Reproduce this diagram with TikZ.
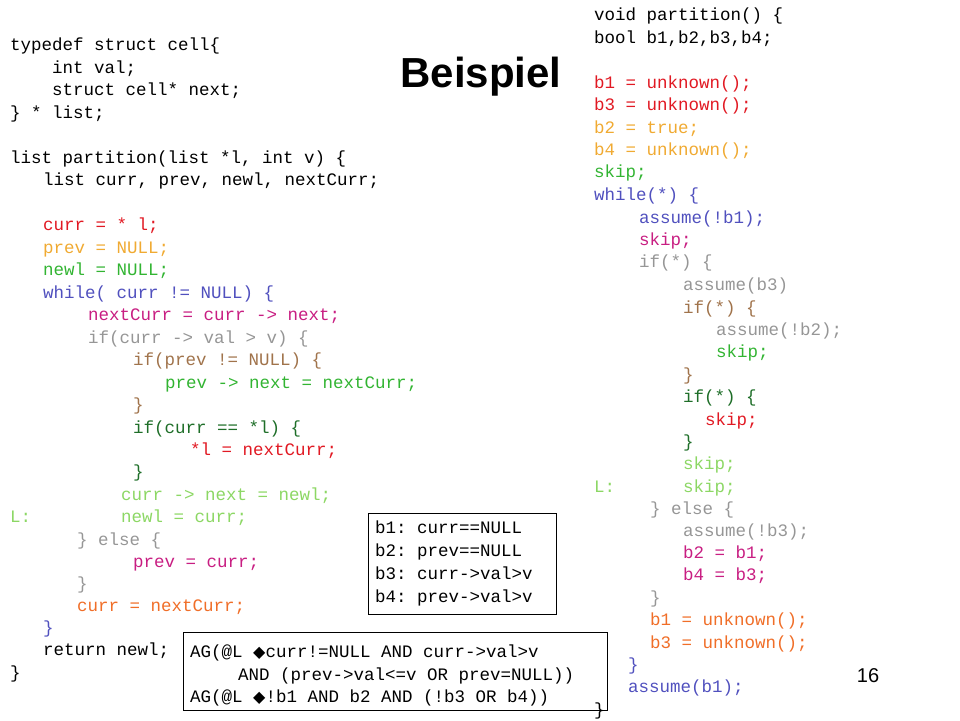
\documentclass[tikz,border=0pt]{standalone}
\usepackage{fontspec}
\setmainfont{Liberation Sans}
\setmonofont{Liberation Mono}
\newfontfamily\symfont{DejaVu Sans}
\usetikzlibrary{positioning}
\definecolor{cred}{RGB}{225,25,35}
\definecolor{corange}{RGB}{240,170,50}
\definecolor{cgreen}{RGB}{50,180,50}
\definecolor{cblue}{RGB}{80,80,190}
\definecolor{cmag}{RGB}{200,30,130}
\definecolor{cgray}{RGB}{150,150,150}
\definecolor{cbrown}{RGB}{160,115,75}
\definecolor{cdgreen}{RGB}{30,110,40}
\definecolor{clgreen}{RGB}{140,215,100}
\definecolor{cored}{RGB}{240,110,40}
\tikzstyle{code} = [inner sep=0pt, anchor=base west,
font=\ttfamily\fontsize{17.5}{22.5}\selectfont]
\tikzstyle{frame} = [draw, thick, inner sep=0pt]
\newcounter{ln}
% one code line: x, centre y, colour, text
\newcommand\cl[4]{\stepcounter{ln}\node (ln\theln) [code, text=#3] at (#1,#2+5) {#4};}
\newcommand\dmd{{\symfont\fontsize{16}{16}\selectfont ◆}}

\begin{document}
\begin{tikzpicture}[x=1pt, y=-1pt]
            \useasboundingbox (0,0) rectangle (960,720);
            \node (title) [font=\bfseries\fontsize{42}{42}\selectfont] at (481,77) {Beispiel};
            \node (page) [font=\fontsize{20}{20}\selectfont] at (868,676) {16};

            % left column
            \cl{10}{45}{black}{typedef struct cell\{}
            \cl{52}{68}{black}{int val;}
            \cl{52}{90}{black}{struct cell* next;}
            \cl{10}{113}{black}{\} * list;}
            \cl{10}{158}{black}{list partition(list *l, int v) \{}
            \cl{43}{180}{black}{list curr, prev, newl, nextCurr;}
            \cl{43}{225}{cred}{curr = * l;}
            \cl{43}{248}{corange}{prev = NULL;}
            \cl{43}{270}{cgreen}{newl = NULL;}
            \cl{43}{293}{cblue}{while( curr != NULL) \{}
            \cl{88}{315}{cmag}{nextCurr = curr -> next;}
            \cl{88}{338}{cgray}{if(curr -> val > v) \{}
            \cl{133}{360}{cbrown}{if(prev != NULL) \{}
            \cl{165}{383}{cgreen}{prev -> next = nextCurr;}
            \cl{133}{405}{cbrown}{\}}
            \cl{133}{428}{cdgreen}{if(curr == *l) \{}
            \cl{190}{450}{cred}{*l = nextCurr;}
            \cl{133}{472}{cdgreen}{\}}
            \cl{121}{495}{clgreen}{curr -> next = newl;}
            \cl{10}{517}{clgreen}{L:}
            \cl{121}{517}{clgreen}{newl = curr;}
            \cl{77}{540}{cgray}{\}  else \{}
            \cl{133}{562}{cmag}{prev = curr;}
            \cl{77}{584}{cgray}{\}}
            \cl{77}{606}{cored}{curr = nextCurr;}
            \cl{43}{628}{cblue}{\}}
            \cl{43}{650}{black}{return newl;}
            \cl{10}{673}{black}{\}}

            % right column
            \cl{594}{15}{black}{void partition() \{}
            \cl{594}{38}{black}{bool b1,b2,b3,b4;}
            \cl{594}{83}{cred}{b1 = unknown();}
            \cl{594}{105}{cred}{b3 = unknown();}
            \cl{594}{128}{corange}{b2 = true;}
            \cl{594}{150}{corange}{b4 = unknown();}
            \cl{594}{172}{cgreen}{skip;}
            \cl{594}{195}{cblue}{while(*) \{}
            \cl{639}{218}{cblue}{assume(!b1);}
            \cl{639}{240}{cmag}{skip;}
            \cl{639}{262}{cgray}{if(*)  \{}
            \cl{683}{285}{cgray}{assume(b3)}
            \cl{683}{308}{cbrown}{if(*) \{}
            \cl{716}{330}{cgray}{assume(!b2);}
            \cl{716}{352}{cgreen}{skip;}
            \cl{683}{375}{cbrown}{\}}
            \cl{683}{397}{cdgreen}{if(*)  \{}
            \cl{705}{420}{cred}{skip;}
            \cl{683}{442}{cdgreen}{\}}
            \cl{683}{464}{clgreen}{skip;}
            \cl{594}{487}{clgreen}{L:}
            \cl{683}{487}{clgreen}{skip;}
            \cl{650}{509}{cgray}{\} else \{}
            \cl{683}{531}{cgray}{assume(!b3);}
            \cl{683}{553}{cmag}{b2 = b1;}
            \cl{683}{575}{cmag}{b4 = b3;}
            \cl{650}{598}{cgray}{\}}
            \cl{650}{620}{cored}{b1 = unknown();}
            \cl{650}{643}{cored}{b3 = unknown();}
            \cl{628}{665}{cblue}{\}}
            \cl{628}{687}{cblue}{assume(b1);}
            \cl{594}{710}{black}{\}}

            % predicate box
            \node (preds) [frame, minimum width=188pt, minimum height=101pt] at (462,563.5) {};
            \cl{375}{528}{black}{b1: curr==NULL}
            \cl{375}{551}{black}{b2: prev==NULL}
            \cl{375}{574}{black}{b3: curr->val>v}
            \cl{375}{597}{black}{b4: prev->val>v}

            % property box
            \node (props) [frame, minimum width=424pt, minimum height=78pt] at (395,671) {};
            \cl{190}{652}{black}{AG(@L \dmd curr!=NULL AND curr->val>v}
            \cl{238}{675}{black}{AND (prev->val<=v OR prev=NULL))}
            \cl{190}{697}{black}{AG(@L \dmd!b1 AND b2 AND (!b3 OR b4))}
        \end{tikzpicture}
\end{document}
